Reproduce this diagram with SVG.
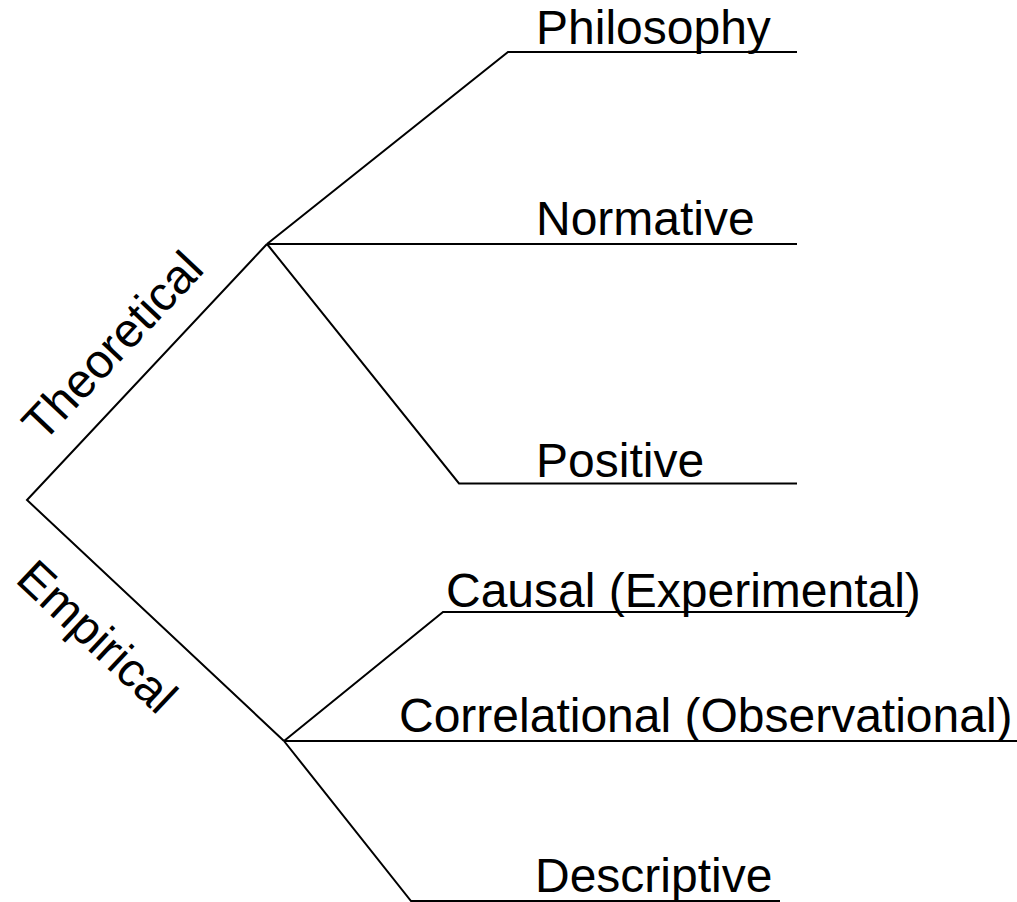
<svg xmlns="http://www.w3.org/2000/svg" width="1017" height="902" viewBox="0 0 1017 902">
<style>
.lbl{font-family:"Liberation Sans",Arial,sans-serif;font-size:48px;fill:#000}
.c{fill:none;stroke:#000;stroke-width:2;stroke-linejoin:miter}
</style>
<rect width="1017" height="902" fill="#fff"/>
<g id="connectors">
<path class="c" d="M267,244 L27,500 L284,741"/>
<path class="c" d="M267,244 L508,52 L797,52"/>
<path class="c" d="M267,244 L797,244"/>
<path class="c" d="M267,244 L459,483.5 L797,483.5"/>
<path class="c" d="M284,741 L443,612 L908,612"/>
<path class="c" d="M284,741 L1017,741"/>
<path class="c" d="M284,741 L411,901 L780,901"/>
</g>
<g id="theoretical"><text class="lbl" transform="translate(43,443.5) rotate(-46.7)">Theoretical</text></g>
<g id="empirical"><text class="lbl" transform="translate(14,581) rotate(43.2)">Empirical</text></g>
<g id="philosophy"><text class="lbl" x="536" y="44">Philosophy</text></g>
<g id="normative"><text class="lbl" x="536" y="235">Normative</text></g>
<g id="positive"><text class="lbl" x="536" y="477">Positive</text></g>
<g id="causal"><text class="lbl" x="446" y="607">Causal (Experimental)</text></g>
<g id="correlational"><text class="lbl" x="399" y="732">Correlational (Observational)</text></g>
<g id="descriptive"><text class="lbl" x="535" y="892">Descriptive</text></g>
</svg>
